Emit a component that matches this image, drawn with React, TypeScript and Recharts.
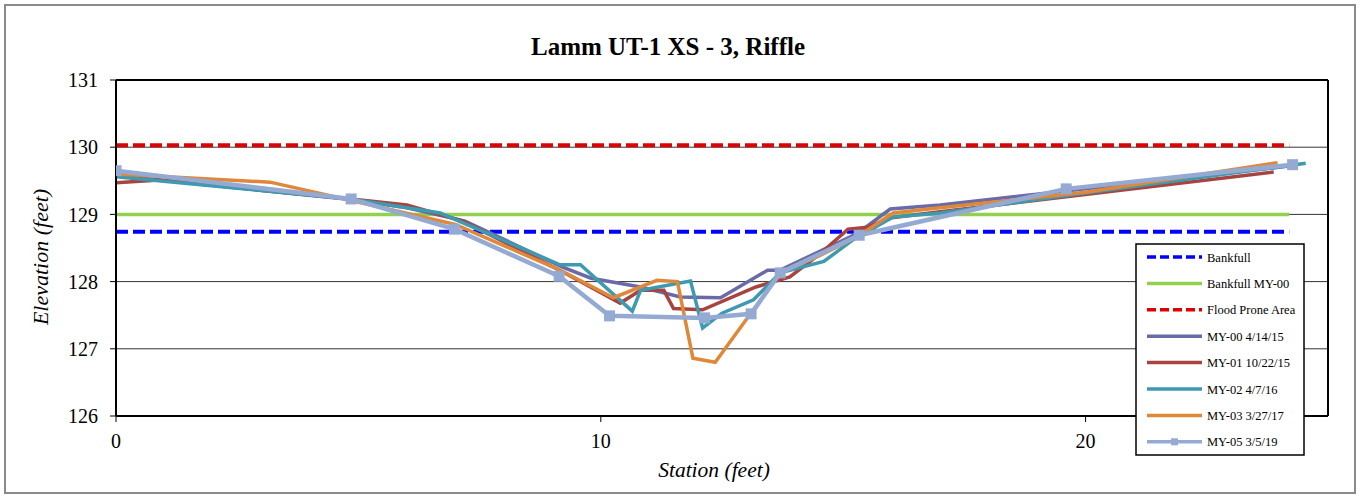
import { CartesianGrid, Line, LineChart, ReferenceLine, XAxis, YAxis } from "recharts";

const FONT = '"Liberation Serif", "Times New Roman", serif';

// Axis ticks
const xTicks = [0, 10, 20];
const xMinorTicks = [0, 5, 10, 15, 20, 25];
const yTicks = [126, 127, 128, 129, 130, 131];
const yMinorTicks = [126.5, 127.5, 128.5, 129.5, 130.5];

// Reference elevations (ft), drawn across the section
const refStations = [0, 24.2];
const bankfullElev = 128.74;
const bankfullMy00Elev = 129.0;
const floodProneElev = 130.03;

const my00Station = [0, 4.85, 6.0, 7.2, 9.2, 9.8, 10.82, 11.64, 12.47, 13.44, 13.7, 15.3, 15.97, 17.0, 24.2];
const my00Elev = [129.58, 129.22, 129.1, 128.9, 128.22, 128.05, 127.92, 127.77, 127.76, 128.17, 128.17, 128.72, 129.08, 129.14, 129.72];

const my01Station = [0, 0.9, 4.85, 6.0, 7.16, 9.2, 10.4, 10.82, 11.3, 11.5, 12.1, 13.2, 13.9, 14.5, 15.1, 15.5, 16.0, 17.0, 23.88];
const my01Elev = [129.47, 129.51, 129.23, 129.14, 128.9, 128.15, 127.68, 127.87, 127.87, 127.6, 127.58, 127.92, 128.07, 128.4, 128.78, 128.81, 128.95, 129.04, 129.63];

const my02Station = [0, 4.85, 6.69, 9.16, 9.58, 10.65, 10.82, 11.85, 12.1, 12.5, 13.15, 13.7, 14.6, 15.2, 16.03, 17.0, 20.0, 24.54];
const my02Elev = [129.56, 129.23, 129.02, 128.25, 128.25, 127.56, 127.87, 128.01, 127.31, 127.53, 127.73, 128.13, 128.3, 128.62, 128.96, 129.02, 129.32, 129.76];

const my03Station = [0, 3.18, 4.83, 7.0, 9.16, 10.26, 11.16, 11.58, 11.9, 12.36, 13.7, 14.47, 15.3, 16.03, 17.0, 20.0, 23.96];
const my03Elev = [129.6, 129.48, 129.21, 128.85, 128.17, 127.76, 128.02, 128.0, 126.86, 126.8, 128.13, 128.37, 128.67, 129.02, 129.1, 129.33, 129.77];

const my05Station = [0, 4.85, 6.98, 9.14, 10.18, 12.14, 13.1, 13.7, 15.33, 19.6, 24.27];
const my05Elev = [129.65, 129.23, 128.78, 128.08, 127.49, 127.46, 127.52, 128.13, 128.69, 129.38, 129.74];

const toPoints = (xs: number[], ys: number[]) => xs.map((x, i) => ({ x, y: ys[i] }));
const flat = (elev: number) => refStations.map((x) => ({ x, y: elev }));

type Series = {
  name: string;
  color: string;
  width: number;
  dash?: string;
  marker?: boolean;
  data: { x: number; y: number }[];
};

const series: Series[] = [
  { name: "Bankfull", color: "#0000ff", width: 4, dash: "12 5", data: flat(bankfullElev) },
  { name: "Bankfull MY-00", color: "#92d050", width: 3.5, data: flat(bankfullMy00Elev) },
  { name: "Flood Prone Area", color: "#e00000", width: 4, dash: "12 5", data: flat(floodProneElev) },
  { name: "MY-00 4/14/15", color: "#6a6aa6", width: 3.5, data: toPoints(my00Station, my00Elev) },
  { name: "MY-01 10/22/15", color: "#a84440", width: 3.5, data: toPoints(my01Station, my01Elev) },
  { name: "MY-02 4/7/16", color: "#3d9ab0", width: 3.5, data: toPoints(my02Station, my02Elev) },
  { name: "MY-03 3/27/17", color: "#e0883a", width: 3.5, data: toPoints(my03Station, my03Elev) },
  { name: "MY-05 3/5/19", color: "#95aad3", width: 4.5, marker: true, data: toPoints(my05Station, my05Elev) },
];

function SquareDot(props: any) {
  const { cx, cy, fill } = props;
  if (cx == null || cy == null) return null;
  return <rect x={cx - 5.5} y={cy - 5.5} width={11} height={11} fill={fill} />;
}

const tickStyle = { fill: "#000", fontSize: 20, fontFamily: FONT };

function Legend() {
  const rowH = 26.4;
  return (
    <svg
      width={170}
      height={213}
      style={{ position: "absolute", left: 1135, top: 243, overflow: "visible" }}
    >
      <rect x={1} y={1} width={168} height={211} fill="#fff" stroke="#000" strokeWidth={1.5} />
      {series.map((s, i) => {
        const cy = 14 + i * rowH;
        return (
          <g key={s.name}>
            <line
              x1={12}
              x2={67}
              y1={cy}
              y2={cy}
              stroke={s.color}
              strokeWidth={3.5}
              strokeDasharray={s.dash ? "9 4" : undefined}
            />
            {s.marker && <rect x={36} y={cy - 3.5} width={7} height={7} fill={s.color} />}
            <text x={72} y={cy + 4.5} fontFamily={FONT} fontSize={12.5} fill="#000">
              {s.name}
            </text>
          </g>
        );
      })}
    </svg>
  );
}

export default function App() {
  return (
    <div style={{ position: "absolute", left: 0, top: 0, width: 1360, height: 498, background: "#fff" }}>
      <div
        style={{
          position: "absolute",
          left: 4,
          top: 4,
          width: 1352,
          height: 490,
          border: "2px solid #8a8a8a",
          boxSizing: "border-box",
        }}
      />
      <LineChart width={1360} height={498} margin={{ top: 80, right: 32, bottom: 42, left: 56 }}>
        <CartesianGrid vertical={false} stroke="#333" strokeWidth={1} />
        <XAxis
          dataKey="x"
          type="number"
          domain={[0, 25]}
          ticks={xTicks}
          interval={0}
          allowDataOverflow
          height={40}
          tickSize={6}
          tickMargin={12}
          tick={tickStyle}
          tickLine={{ stroke: "#000" }}
          axisLine={{ stroke: "#000", strokeWidth: 2 }}
        />
        <XAxis
          xAxisId="minor"
          dataKey="x"
          type="number"
          domain={[0, 25]}
          ticks={xMinorTicks}
          interval={0}
          allowDataOverflow
          mirror
          tick={false}
          tickSize={4}
          axisLine={false}
          tickLine={{ stroke: "#000" }}
        />
        <YAxis
          type="number"
          domain={[126, 131]}
          ticks={yTicks}
          interval={0}
          allowDataOverflow
          width={60}
          tickSize={6}
          tickMargin={12}
          tick={tickStyle}
          tickLine={{ stroke: "#000" }}
          axisLine={{ stroke: "#000", strokeWidth: 2 }}
        />
        <YAxis
          yAxisId="minor"
          type="number"
          domain={[126, 131]}
          ticks={yMinorTicks}
          interval={0}
          allowDataOverflow
          mirror
          tick={false}
          tickSize={5}
          axisLine={false}
          tickLine={{ stroke: "#000" }}
        />
        <ReferenceLine y={131} stroke="#000" strokeWidth={2} />
        <ReferenceLine x={25} stroke="#000" strokeWidth={2} />
        {series.map((s) => (
          <Line
            key={s.name}
            data={s.data}
            dataKey="y"
            name={s.name}
            type="linear"
            stroke={s.color}
            strokeWidth={s.width}
            strokeDasharray={s.dash}
            dot={s.marker ? <SquareDot fill={s.color} /> : false}
            activeDot={false}
            isAnimationActive={false}
          />
        ))}
      </LineChart>
      <svg width={1360} height={498} style={{ position: "absolute", left: 0, top: 0, pointerEvents: "none" }}>
        <text x={668} y={55} textAnchor="middle" fontFamily={FONT} fontWeight="bold" fontSize={25} fill="#000">
          Lamm UT-1 XS - 3, Riffle
        </text>
        <text
          x={714}
          y={477}
          textAnchor="middle"
          fontFamily={FONT}
          fontStyle="italic"
          fontSize={21.5}
          fill="#000"
        >
          Station (feet)
        </text>
        <text
          transform="translate(48 257) rotate(-90)"
          textAnchor="middle"
          fontFamily={FONT}
          fontStyle="italic"
          fontSize={22}
          fill="#000"
        >
          Elevation (feet)
        </text>
      </svg>
      <Legend />
    </div>
  );
}
